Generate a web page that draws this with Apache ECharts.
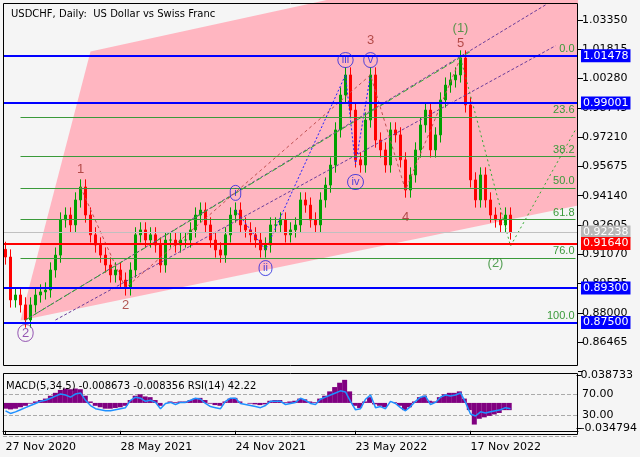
<!DOCTYPE html>
<html><head><meta charset="utf-8">
<script src="https://cdn.jsdelivr.net/npm/echarts@6/dist/echarts.min.js"></script>
<style>html,body{margin:0;padding:0;background:#f5f5f5}#c{width:640px;height:457px}</style>
</head><body><div id="c"></div>
<script>
const closes=[0.9093,0.8868,0.8894,0.8842,0.8763,0.8842,0.8894,0.8910,0.8920,0.9025,0.9103,0.9287,0.9313,0.9261,0.9392,0.9460,0.9313,0.9209,0.9156,0.9103,0.9051,0.8999,0.9025,0.8972,0.8931,0.9025,0.9209,0.9235,0.9182,0.9209,0.9156,0.9051,0.9182,0.9182,0.9156,0.9182,0.9182,0.9235,0.9313,0.9339,0.9261,0.9182,0.9130,0.9103,0.9209,0.9313,0.9339,0.9261,0.9235,0.9209,0.9182,0.9130,0.9156,0.9261,0.9261,0.9287,0.9209,0.9235,0.9261,0.9392,0.9365,0.9287,0.9261,0.9392,0.9470,0.9575,0.9759,0.9942,1.0047,0.9863,0.9602,0.9575,0.9811,1.0047,0.9706,0.9654,0.9575,0.9759,0.9733,0.9602,0.9444,0.9523,0.9654,0.9785,0.9863,0.9654,0.9733,0.9916,0.9994,1.0021,1.0047,1.0136,0.9890,0.9497,0.9392,0.9523,0.9392,0.9313,0.9287,0.9261,0.9313,0.9224];
const macd=[-0.008,-0.009,-0.008,-0.006,-0.004,-0.001,0.002,0.004,0.006,0.010,0.014,0.018,0.020,0.019,0.020,0.019,0.010,0.002,-0.004,-0.006,-0.008,-0.008,-0.007,-0.006,-0.004,0.004,0.010,0.012,0.009,0.008,0.004,-0.004,0.000,0.002,0.001,0.002,0.002,0.004,0.006,0.007,0.004,-0.001,-0.003,-0.004,0.002,0.006,0.007,0.002,0.000,-0.001,-0.002,-0.003,-0.002,0.003,0.004,0.004,0.001,0.002,0.003,0.006,0.005,0.002,0.001,0.006,0.010,0.016,0.022,0.028,0.032,0.016,-0.004,-0.007,0.002,0.008,-0.002,-0.004,-0.006,0.000,0.001,-0.004,-0.010,-0.006,0.002,0.008,0.010,0.003,0.002,0.008,0.012,0.014,0.014,0.016,0.006,-0.010,-0.030,-0.022,-0.020,-0.018,-0.016,-0.014,-0.010,-0.010];
const rsi=[38,33,36,40,44,48,52,56,58,62,66,70,68,64,70,72,58,48,42,40,38,38,40,42,44,58,64,62,56,58,54,42,52,54,50,54,54,58,62,60,52,46,44,42,56,62,62,52,50,48,46,44,48,56,56,56,50,52,54,62,58,52,50,60,64,68,72,76,74,56,40,42,60,68,44,46,42,56,52,44,38,46,56,64,66,50,54,64,68,66,68,72,54,32,28,36,34,36,38,40,44,42];
const dateLabels={0:'27 Nov 2020',23:'28 May 2021',46:'24 Nov 2021',70:'23 May 2022',93:'17 Nov 2022'};
const priceMin=0.84930, priceMax=1.04398, priceStep=0.01535;
const macdMin=-0.034794, macdMax=0.038733;
const rsiLevels=[30,70];
const blueLevels=[1.01478,0.99001,0.893,0.875];
const redLevel=0.9164, lastPrice=0.92238;
const fibLevels=[['0.0',1.01478],['23.6',0.98270],['38.2',0.96220],['50.0',0.94550],['61.8',0.92920],['76.0',0.90880],['100.0',0.87500]];
const waveLabels=[['1',15,0.955,'r'],['2',24,0.884,'r'],['3',73,1.023,'r'],['4',80,0.930,'r'],['5',91,1.021,'r'],['(1)',90.5,1.029,'g'],['(2)',98,0.906,'g'],['iii',68,1.0125,'b'],['v',73,1.0125,'b'],['iv',70,0.9486,'b'],['i',46,0.9429,'b'],['ii',52,0.9035,'b'],['2',4,0.8695,'p']];
const NCAT=115;
const cats=[];for(let i=0;i<NCAT;i++)cats.push(dateLabels[i]||'');
const ohlc=closes.map((c,i)=>{const o=i?closes[i-1]:c+0.004;return [o,c,Math.min(o,c)-0.004,Math.max(o,c)+0.004];});
const pinkPoly=[[2.9,0.876],[17.3,1.0170],[78.9,1.0524],[114.5,1.0524],[114.5,0.9366]];
const lines=[
 {p:[[46,0.9339],[52,0.9130],[68,1.0047],[70,0.9575],[73,1.0047]],c:'#2222ff',t:[2,2]},
 {p:[[4,0.8763],[108,1.0414]],c:'#6a3d9a',t:[3,2]},
 {p:[[10,0.8763],[110,1.0200]],c:'#6a3d9a',t:[3,2]},
 {p:[[4,0.8763],[93,1.0170]],c:'#33aa33',t:[6,3]},
 {p:[[15,0.946],[24,0.8931],[73,1.0047],[80,0.9444],[91,1.0136]],c:'#c05050',t:[3,3]},
 {p:[[91,1.0136],[101,0.9150],[114,0.976]],c:'#33aa33',t:[2,3]}
];
const colorMap={r:'#a0302a',g:'#2e8b2e',b:'#2222dd',p:'#7a2aa0'};
const chart=echarts.init(document.getElementById('c'));
const boxLabel=(v,bg)=>({show:true,position:'end',formatter:v.toFixed(5),color:'#fff',backgroundColor:bg,padding:[1,2],fontSize:11,distance:3,fontFamily:'DejaVu Sans'});
const ml=[];
ml.push({yAxis:lastPrice,lineStyle:{color:'#c0c0c0',width:1,type:'solid'},label:boxLabel(lastPrice,'#b8b8b8')});
blueLevels.forEach(v=>ml.push({yAxis:v,lineStyle:{color:'#0000ff',width:2,type:'solid'},label:boxLabel(v,'#0000ff')}));
ml.push({yAxis:redLevel,lineStyle:{color:'#ff0000',width:2,type:'solid'},label:boxLabel(redLevel,'#ff0000')});
const fibMl=fibLevels.map(f=>[{coord:[2.9,f[1]],lineStyle:{color:'#3a9a3a',width:1,type:'solid'},label:{show:true,position:'insideEndTop',formatter:f[0],color:'#3a9a3a',fontSize:11,distance:1}},{coord:[114,f[1]]}]);
const series=[
 {type:'custom',xAxisIndex:0,yAxisIndex:0,silent:true,z:1,clip:true,data:[0],renderItem:(p,api)=>({type:'polygon',shape:{points:pinkPoly.map(q=>api.coord(q))},style:{fill:'#ffb6c1'}}),markLine:{symbol:'none',silent:true,precision:6,data:fibMl}},
 {type:'candlestick',xAxisIndex:0,yAxisIndex:0,z:3,data:ohlc,barWidth:2,itemStyle:{color:'#00a000',color0:'#ff0000',borderColor:'#00a000',borderColor0:'#ff0000',borderWidth:1},markLine:{symbol:'none',silent:true,precision:6,data:ml}}
];
lines.forEach(l=>series.push({type:'line',xAxisIndex:0,yAxisIndex:0,data:l.p,symbol:'none',z:4,silent:true,lineStyle:{color:l.c,width:1,type:l.t}}));
series.push({type:'scatter',xAxisIndex:0,yAxisIndex:0,symbolSize:0,z:6,data:waveLabels.map(w=>({value:[w[1],w[2]],label:{show:true,position:'inside',formatter:w[0],fontSize:w[3]==='b'?11:13,color:colorMap[w[3]],borderColor:(w[3]==='b'||w[3]==='p')?colorMap[w[3]]:'transparent',borderWidth:1,borderRadius:9,padding:(w[3]==='b'||w[3]==='p')?[2,4]:0}}))});
series.push({type:'bar',xAxisIndex:1,yAxisIndex:1,data:macd,barWidth:5,barGap:0,itemStyle:{color:'#800080'},z:2});
series.push({type:'line',xAxisIndex:2,yAxisIndex:2,data:rsi,symbol:'none',lineStyle:{color:'#1e90ff',width:1.5},z:3});
const lab={fontSize:11,color:'#000',fontFamily:'DejaVu Sans'};
chart.setOption({
 animation:false,backgroundColor:'#f5f5f5',
 title:{text:'USDCHF, Daily:  US Dollar vs Swiss Franc',left:6,top:4,textStyle:{fontSize:10,fontWeight:'normal',color:'#000',fontFamily:'DejaVu Sans'}},
 graphic:[
  {type:'rect',shape:{x:3.5,y:3.5,width:574,height:362},style:{fill:'none',stroke:'#000',lineWidth:1},silent:true,z:100},
  {type:'rect',shape:{x:3.5,y:373.5,width:574,height:61},style:{fill:'none',stroke:'#000',lineWidth:1},silent:true,z:100},
  {type:'text',left:6,top:381,style:{text:'MACD(5,34,5) -0.008673 -0.008356 RSI(14) 42.22',fontSize:10,fill:'#000',fontFamily:'DejaVu Sans'},z:100}],
 grid:[{left:3,right:62,top:0,height:371.5},{left:3,right:62,top:375,height:53},{left:3,right:62,top:373,height:63}],
 xAxis:[
  {type:'category',gridIndex:0,data:cats,axisLine:{show:false},axisTick:{show:false},axisLabel:{show:false}},
  {type:'category',gridIndex:1,data:cats,axisLine:{show:false},axisTick:{show:false},axisLabel:{show:false}},
  {type:'category',gridIndex:2,data:cats,position:'bottom',axisLine:{lineStyle:{color:'#000'}},axisTick:{show:true,alignWithLabel:true,interval:(i)=>!!dateLabels[i],lineStyle:{color:'#000'},length:4},axisLabel:Object.assign({interval:0,align:'left',margin:6},lab)}
 ],
 yAxis:[
  {type:'value',gridIndex:0,position:'right',min:priceMin,max:priceMax,interval:priceStep,splitLine:{show:false},axisLine:{show:false},axisTick:{show:true,lineStyle:{color:'#000'}},axisLabel:Object.assign({formatter:v=>(v<0.86||v>1.04)?'':v.toFixed(5),margin:4,showMaxLabel:false},lab)},
  {type:'value',gridIndex:1,position:'right',min:macdMin,max:macdMax,interval:macdMax-macdMin,splitLine:{show:false},axisLine:{show:false},axisTick:{show:true,lineStyle:{color:'#000'}},axisLabel:Object.assign({formatter:v=>v.toFixed(6),margin:4},lab)},
  {type:'value',gridIndex:2,position:'right',min:-10,max:110,interval:40,splitLine:{show:true,lineStyle:{color:'#aaa',type:'dashed'}},axisLine:{show:false},axisTick:{show:false},axisLabel:Object.assign({formatter:v=>rsiLevels.includes(v)?v.toFixed(2):'',margin:4},lab)}
 ],
 series
});
</script></body></html>
